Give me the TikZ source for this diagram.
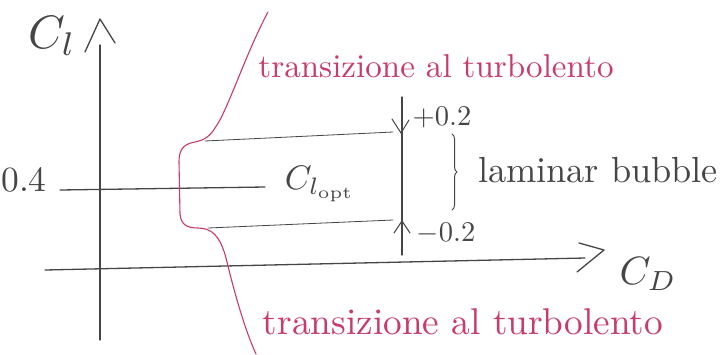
\documentclass[tikz,border=0pt]{standalone}
\usetikzlibrary{decorations.pathreplacing}
\definecolor{pen}{RGB}{70,70,70}
\definecolor{redpen}{RGB}{200,60,105}
\begin{document}
\begin{tikzpicture}[x=1pt,y=-1pt,
  axis/.style={draw=pen,line width=1.3pt,line cap=round,line join=round},
  thin/.style={draw=pen,line width=0.8pt,line cap=round},
  redline/.style={draw=redpen,line width=1.1pt,line cap=round,line join=round},
  lbl/.style={text=pen,inner sep=0pt},
  redlbl/.style={text=redpen,inner sep=0pt}]
\useasboundingbox[fill=white] (0,0) rectangle (725,354);
% coordinates
\coordinate (ytop) at (100,45);
\coordinate (ybot) at (100,340);
\coordinate (ytip) at (100,19);
\coordinate (yl) at (85,52);
\coordinate (yr) at (115,43);
\coordinate (xl) at (45,270);
\coordinate (xr) at (585,258);
\coordinate (xt) at (579,243);
\coordinate (xtip) at (604,250);
\coordinate (xb) at (577,272);
\coordinate (hl) at (60,190);
\coordinate (hr) at (265,187);
\coordinate (ul) at (205,141);
\coordinate (ur) at (393,132);
\coordinate (ll) at (208,228);
\coordinate (lr) at (393,220);
\coordinate (vt) at (402,97);
\coordinate (vb) at (402,255);
\coordinate (dtip) at (401,133);
\coordinate (dl) at (392,119);
\coordinate (dr) at (409,120);
\coordinate (utip) at (402,221);
\coordinate (uleft) at (394,233);
\coordinate (uright) at (410,233);
\coordinate (bt) at (452,134);
\coordinate (bb) at (452,210);
% axes
\draw[axis] (ytop) -- (ybot);
\draw[axis] (yl) -- (ytip) -- (yr);
\draw[axis] (xl) -- (xr);
\draw[axis] (xt) -- (xtip) -- (xb);
% lines
\draw[axis] (hl) -- (hr);
\draw[thin] (ul) -- (ur);
\draw[thin] (ll) -- (lr);
\draw[axis] (vt) -- (vb);
\draw[thin,line width=1pt] (dl) -- (dtip) -- (dr);
\draw[thin,line width=1pt] (uleft) -- (utip) -- (uright);
\draw[thin,line width=1pt,decorate,decoration={brace,amplitude=5pt}] (bt) -- (bb);
% red brace
\draw[redline] (268,12) .. controls (245,55) and (228,110) .. (215,128)
  .. controls (210,136) and (205,140) .. (195,142)
  .. controls (183,144) and (179,150) .. (179,162)
  -- (180,214) .. controls (181,224) and (186,228) .. (198,228)
  .. controls (212,228) and (220,236) .. (226,258)
  .. controls (235,295) and (245,330) .. (256,354);
% labels
\node[lbl] (cl) at (52,36) {\resizebox{!}{32pt}{$C_l$}};
\node[lbl] (cd) at (648,274) {\resizebox{!}{27pt}{$C_D$}};
\node[lbl] (v04) at (24,180) {\resizebox{!}{24pt}{0.4}};
\node[lbl] (clopt) at (320,184) {\resizebox{70pt}{!}{$C_{l_{\mathrm{opt}}}$}};
\node[lbl] (p02) at (442,117) {\resizebox{!}{19pt}{$+$0.2}};
\node[lbl] (m02) at (446,233) {\resizebox{!}{19pt}{$-$0.2}};
\node[lbl] (lam) at (598,170) {\resizebox{240pt}{!}{laminar bubble}};
\node[redlbl] (ttop) at (436,66) {\resizebox{355pt}{!}{transizione al turbolento}};
\node[redlbl] (tbot) at (463,322) {\resizebox{400pt}{!}{transizione al turbolento}};
\end{tikzpicture}
\end{document}
